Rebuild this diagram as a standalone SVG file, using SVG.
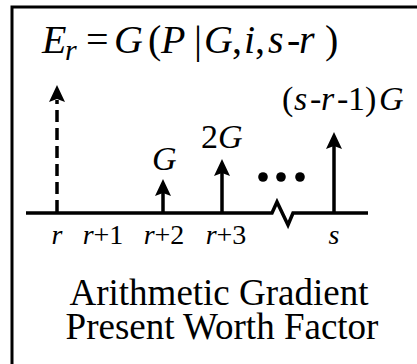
<svg xmlns="http://www.w3.org/2000/svg" width="417" height="364" viewBox="0 0 417 364">
<defs>
<style>
.t{font-family:"Liberation Serif","Times New Roman",serif;fill:#000}
.i{font-style:italic}
.ln{stroke:#000;stroke-width:3.5;fill:none}
</style>
<path id="head" d="M0,0 L-8,17 L0,14 L8,17 Z"/>
</defs>
<rect width="417" height="364" fill="#fff"/>
<path d="M12,364 L12,7 L417,7" stroke="#000" stroke-width="3" fill="none"/>

<g id="title" class="t" font-size="40">
<text y="53"><tspan class="i" x="42">E</tspan><tspan class="i" x="65" y="60" font-size="30">r</tspan><tspan x="86" y="53">=</tspan><tspan class="i" x="114">G</tspan><tspan x="148">(</tspan><tspan class="i" x="161">P</tspan><tspan x="194">|</tspan><tspan class="i" x="204">G</tspan><tspan x="232">,</tspan><tspan class="i" x="244">i</tspan><tspan x="255">,</tspan><tspan class="i" x="268">s</tspan><tspan x="287">-</tspan><tspan class="i" x="299">r</tspan><tspan x="325">)</tspan></text>
</g>

<g id="connectors">
<polyline class="ln" points="26,213 272,213 277,202 288,225 293,213 368,213"/>
<line class="ln" x1="57" y1="212" x2="57" y2="100" stroke-dasharray="12,6"/>
<use href="#head" x="57" y="85"/>
<line class="ln" x1="163" y1="212" x2="163" y2="190"/>
<use href="#head" x="163" y="179"/>
<line class="ln" x1="222" y1="212" x2="222" y2="170"/>
<use href="#head" x="222" y="159"/>
<line class="ln" x1="334" y1="212" x2="334" y2="143"/>
<use href="#head" x="334" y="132"/>
</g>

<g id="dots">
<circle cx="263" cy="177" r="4.8"/>
<circle cx="281" cy="177" r="4.8"/>
<circle cx="300" cy="177" r="4.8"/>
</g>

<g id="labels" class="t" font-size="34">
<text x="152" y="170" class="i">G</text>
<text x="201" y="148">2<tspan class="i">G</tspan></text>
<text y="110"><tspan x="282">(</tspan><tspan class="i" x="294">s</tspan><tspan x="310">-</tspan><tspan class="i" x="321">r</tspan><tspan x="337">-</tspan><tspan x="348">1</tspan><tspan x="365">)</tspan><tspan class="i" x="379">G</tspan></text>
</g>

<g id="ticks" class="t" font-size="28" text-anchor="middle">
<text x="57" y="244" class="i">r</text>
<text x="103" y="244"><tspan class="i">r</tspan>+1</text>
<text x="164" y="244"><tspan class="i">r</tspan>+2</text>
<text x="226" y="244"><tspan class="i">r</tspan>+3</text>
<text x="334" y="244" class="i">s</text>
</g>

<g id="caption" class="t" font-size="37" text-anchor="middle">
<text x="219" y="305">Arithmetic Gradient</text>
<text x="222" y="339">Present Worth Factor</text>
</g>
</svg>
